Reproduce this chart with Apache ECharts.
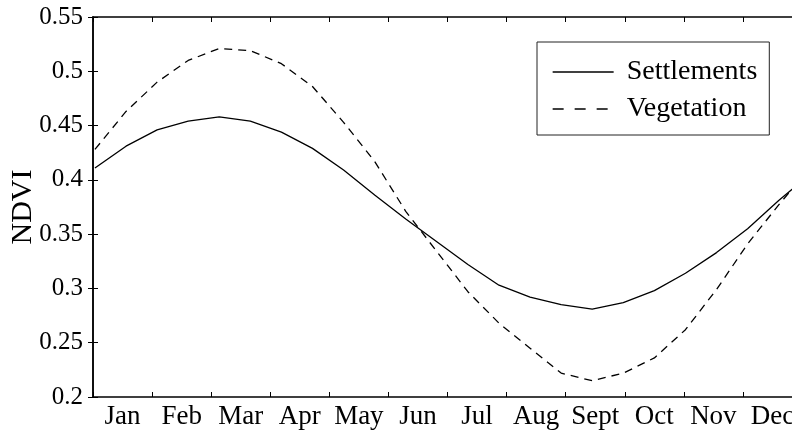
<!DOCTYPE html>
<html>
<head>
<meta charset="utf-8">
<script src="https://cdn.jsdelivr.net/npm/echarts@6/dist/echarts.min.js"></script>
<style>
  html, body { margin: 0; padding: 0; background: #fff; }
  #chart { width: 792px; height: 432px; }
</style>
</head>
<body>
<div id="chart"></div>
<script>
// 16-day composite dates (day of year) and mean NDVI per land-cover class
const dayOfYear = [1, 17, 33, 49, 65, 81, 97, 113, 129, 145, 161, 177, 193, 209, 225, 241, 257, 273, 289, 305, 321, 337, 353, 365];
const settlements = [0.411, 0.431, 0.446, 0.454, 0.458, 0.454, 0.444, 0.429, 0.409, 0.386, 0.364, 0.343, 0.322, 0.303, 0.292, 0.285, 0.281, 0.287, 0.298, 0.314, 0.333, 0.355, 0.381, 0.399];
const vegetation = [0.428, 0.463, 0.490, 0.510, 0.521, 0.519, 0.507, 0.486, 0.453, 0.417, 0.371, 0.334, 0.297, 0.268, 0.245, 0.222, 0.215, 0.222, 0.236, 0.262, 0.299, 0.341, 0.377, 0.402];
const monthLabels = ['Jan', 'Feb', 'Mar', 'Apr', 'May', 'Jun', 'Jul', 'Aug', 'Sept', 'Oct', 'Nov', 'Dec'];
const yTicks = [0.2, 0.25, 0.3, 0.35, 0.4, 0.45, 0.5, 0.55];

const FONT = 'Liberation Serif';
const ink = '#000';

const pairs = (vals) => vals.map((v, i) => [dayOfYear[i], v]);

const frameAxis = (position) => ({
  type: 'value',
  position: position,
  min: 0,
  max: 365,
  interval: 365 / 12,
  axisLine: { show: true, lineStyle: { color: ink, width: 1.5 } },
  axisTick: { show: true, inside: true, length: 5, lineStyle: { color: ink, width: 1 } },
  axisLabel: { show: false },
  splitLine: { show: false }
});

const chart = echarts.init(document.getElementById('chart'), null, { renderer: 'canvas' });

chart.setOption({
  animation: false,
  backgroundColor: '#fff',
  grid: { left: 93, top: 17, width: 709, height: 380, containLabel: false, outerBoundsMode: 'none' },
  xAxis: [
    frameAxis('bottom'),
    frameAxis('top'),
    {
      type: 'category',
      position: 'bottom',
      data: monthLabels,
      boundaryGap: true,
      axisLine: { show: false },
      axisTick: { show: false },
      splitLine: { show: false },
      axisLabel: { show: true, interval: 0, margin: 6, color: ink, fontFamily: FONT, fontSize: 27 }
    }
  ],
  yAxis: [
    {
      type: 'value',
      position: 'left',
      min: yTicks[0],
      max: yTicks[yTicks.length - 1],
      interval: 0.05,
      name: 'NDVI',
      nameLocation: 'middle',
      nameGap: 55,
      nameMoveOverlap: false,
      nameTextStyle: { color: ink, fontFamily: FONT, fontSize: 30 },
      axisLine: { show: true, lineStyle: { color: ink, width: 1.5 } },
      axisTick: { show: true, inside: true, length: 5, lineStyle: { color: ink, width: 1 } },
      axisLabel: {
        margin: 10, color: ink, fontFamily: FONT, fontSize: 25,
        formatter: (v) => String(parseFloat(v.toFixed(2)))
      },
      splitLine: { show: false }
    },
    {
      type: 'value',
      position: 'right',
      min: yTicks[0],
      max: yTicks[yTicks.length - 1],
      interval: 0.05,
      axisLine: { show: true, lineStyle: { color: ink, width: 1.5 } },
      axisTick: { show: true, inside: true, length: 5, lineStyle: { color: ink, width: 1 } },
      axisLabel: { show: false },
      splitLine: { show: false }
    }
  ],
  legend: {
    orient: 'vertical',
    left: 537,
    top: 42,
    padding: [16, 12, 12, 15],
    itemWidth: 61,
    itemHeight: 20,
    itemGap: 9,
    borderColor: '#222',
    borderWidth: 1,
    backgroundColor: '#fff',
    itemStyle: { opacity: 0 },
    lineStyle: { width: 1.3 },
    textStyle: { color: ink, fontFamily: FONT, fontSize: 28, padding: [0, 0, 0, 8] },
    data: [
      { name: 'Settlements' },
      { name: 'Vegetation', lineStyle: { type: [11, 11] } }
    ]
  },
  series: [
    {
      name: 'Settlements',
      type: 'line',
      xAxisIndex: 0,
      yAxisIndex: 0,
      data: pairs(settlements),
      showSymbol: false,
      symbol: 'none',
      smooth: false,
      itemStyle: { color: ink },
      lineStyle: { color: ink, width: 1.3, type: 'solid' }
    },
    {
      name: 'Vegetation',
      type: 'line',
      xAxisIndex: 0,
      yAxisIndex: 0,
      data: pairs(vegetation),
      showSymbol: false,
      symbol: 'none',
      smooth: false,
      itemStyle: { color: ink },
      lineStyle: { color: ink, width: 1.3, type: [8, 6] }
    }
  ]
});
</script>
</body>
</html>
